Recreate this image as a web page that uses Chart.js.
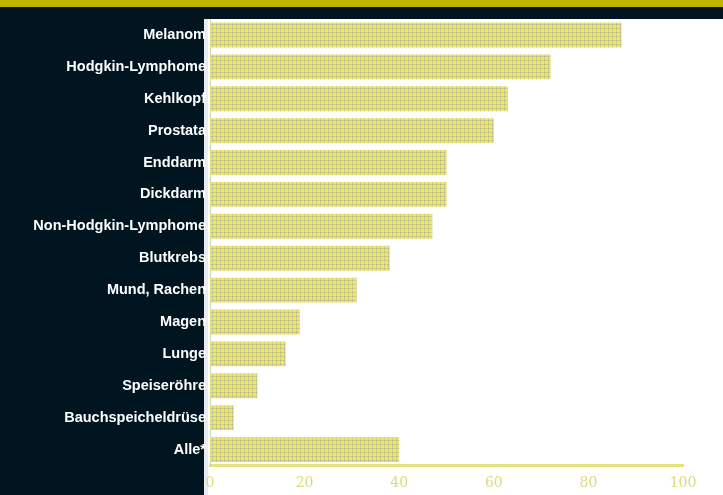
<!DOCTYPE html>
<html lang="de">
<head>
<meta charset="utf-8">
<title>Überlebensraten</title>
<script src="https://cdn.jsdelivr.net/npm/chart.js@4.4.1/dist/chart.umd.min.js"></script>
<style>
  html, body { margin: 0; padding: 0; background: #011521; }
  #wrap { width: 723px; height: 495px; position: relative; }
</style>
</head>
<body>
<div id="wrap"><canvas id="chart" width="723" height="495"></canvas></div>
<script>
const categories = [
  'Melanom', 'Hodgkin-Lymphome', 'Kehlkopf', 'Prostata', 'Enddarm', 'Dickdarm',
  'Non-Hodgkin-Lymphome', 'Blutkrebs', 'Mund, Rachen', 'Magen', 'Lunge',
  'Speiseröhre', 'Bauchspeicheldrüse', 'Alle*',
];
const rates = [87, 72, 63, 60, 50, 50, 47, 38, 31, 19, 16, 10, 5, 40];
const xTicks = [0, 20, 40, 60, 80, 100];

const NAVY = '#011521';
const GOLD = '#c3b300';

// dotted screen fill for the bars
function makeDotPattern(ctx) {
  const tile = document.createElement('canvas');
  tile.width = 4;
  tile.height = 4;
  const t = tile.getContext('2d');
  t.fillStyle = '#eaea5e';
  t.fillRect(0, 0, 4, 4);
  t.fillStyle = '#d0cd88';
  t.fillRect(0, 0, 4, 1);
  t.fillRect(0, 0, 1, 4);
  t.fillStyle = '#b8b580';
  t.fillRect(0, 0, 1, 1);
  return ctx.createPattern(tile, 'repeat');
}

const backdrop = {
  id: 'backdrop',
  beforeDraw(chart) {
    const { ctx, width, height } = chart;
    ctx.save();
    ctx.fillStyle = NAVY;
    ctx.fillRect(0, 0, width, height);
    ctx.fillStyle = GOLD;
    ctx.fillRect(0, 0, width, 7);
    ctx.fillStyle = '#ffffff';
    ctx.fillRect(204, 19, width - 204, height - 19);
    ctx.fillStyle = '#e9eaf2';
    ctx.fillRect(204, 19, 4, height - 19);
    ctx.restore();
  },
};

const canvas = document.getElementById('chart');
const ctx = canvas.getContext('2d');

new Chart(ctx, {
  type: 'bar',
  data: {
    labels: categories,
    datasets: [{
      data: rates,
      backgroundColor: makeDotPattern(ctx),
      borderWidth: 0,
      barPercentage: 0.78,
      categoryPercentage: 1,
    }],
  },
  options: {
    indexAxis: 'y',
    responsive: false,
    animation: false,
    layout: { padding: { left: 0, right: 40, top: 19, bottom: 0 } },
    plugins: {
      legend: { display: false },
      tooltip: { enabled: false },
    },
    scales: {
      x: {
        min: 0,
        max: 100,
        afterBuildTicks: (scale) => { scale.ticks = xTicks.map((v) => ({ value: v })); },
        afterFit: (scale) => { scale.height = 29.5; },
        grid: { display: false },
        border: { display: true, color: '#e3e27e', width: 3 },
        ticks: {
          color: '#dcda80',
          padding: 1,
          font: { family: '"DejaVu Serif", "Liberation Serif", serif', size: 14 },
        },
      },
      y: {
        afterFit: (scale) => { scale.width = 210; },
        grid: { display: false, drawTicks: false },
        border: { display: true, color: '#cfcfbd', width: 1 },
        ticks: {
          color: '#ffffff',
          padding: 4,
          font: { family: '"Liberation Sans", Arial, sans-serif', size: 14.5, weight: 'bold', lineHeight: 1 },
        },
      },
    },
  },
  plugins: [backdrop],
});
</script>
</body>
</html>
